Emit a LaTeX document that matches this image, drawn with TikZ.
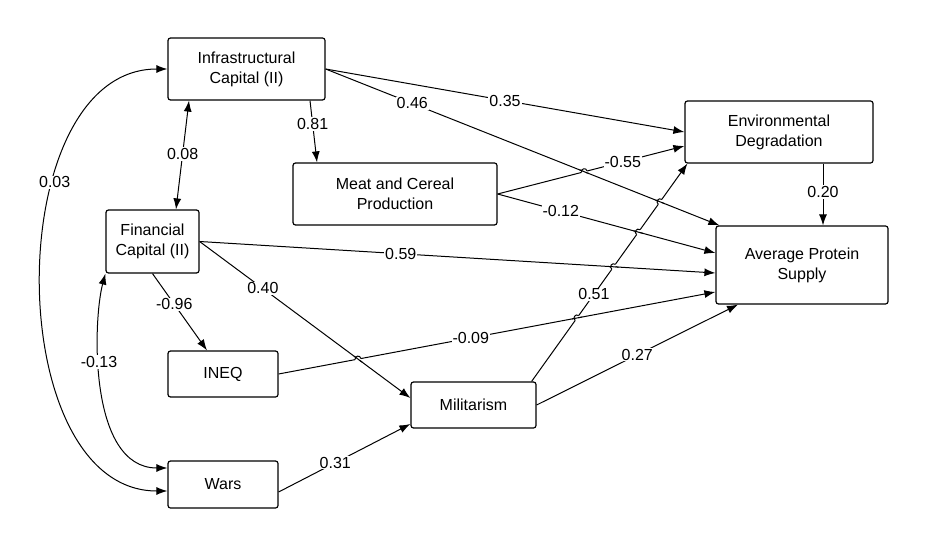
\documentclass[tikz,border=0pt]{standalone}
\usepackage{fontspec}
\setmainfont{Liberation Sans}
\usetikzlibrary{arrows.meta, calc, intersections}
% line jump: #1 crossing, #2--#3 jumping line, #4--#5 crossed line
\newcommand\hop[5]{%
  \draw[white, line width=3pt] ($(#1)!3pt!(#2)$) -- ($(#1)!3pt!(#3)$);
  \draw ($(#1)!5pt!(#4)$) -- ($(#1)!5pt!(#5)$);
  \draw ($(#1)!3pt!(#2)$) to[bend left=90, looseness=1.7] ($(#1)!3pt!(#3)$);}
\begin{document}
\begin{tikzpicture}[x=1pt,y=-1pt,>={Latex[length=11pt,width=8pt]},line width=1pt,
  box/.style={draw, line width=1.2pt, rounded corners=2.5pt, align=center, inner sep=0pt,
    font=\fontsize{16}{20}\selectfont},
  coef/.style={fill=white, inner sep=1pt, font=\fontsize{16}{18}\selectfont}]
\useasboundingbox (0,0) rectangle (936,537);
\node[box, minimum width=157pt, minimum height=62pt] (infra) at (246.5,69) {Infrastructural\\Capital (II)};
\node[box, minimum width=204pt, minimum height=62pt] (meat) at (395,194) {Meat and Cereal\\Production};
\node[box, minimum width=188pt, minimum height=62pt] (env) at (779,132) {Environmental\\Degradation};
\node[box, minimum width=172pt, minimum height=78pt] (aps) at (802,265) {Average Protein\\Supply};
\node[box, minimum width=93pt, minimum height=63pt] (fin) at (152.5,241.5) {Financial\\Capital (II)};
\node[box, minimum width=110pt, minimum height=46pt] (ineq) at (223,374) {INEQ};
\node[box, minimum width=125pt, minimum height=46pt] (mil) at (473.5,405) {Militarism};
\node[box, minimum width=110pt, minimum height=47pt] (wars) at (223,484.5) {Wars};

\coordinate (e46) at ([xshift=4pt]aps.north west);
\coordinate (e55) at ([yshift=-14pt]env.west);
\coordinate (s51) at ([xshift=-5pt]mil.north east);
\coordinate (e51) at ([xshift=3pt]env.south west);
\coordinate (e12) at ([yshift=12pt]aps.west);
\coordinate (e59) at ([yshift=-8pt]aps.west);
\coordinate (e09) at ([yshift=-27pt]aps.west);
\coordinate (e40) at ([yshift=7pt]mil.west);

\draw[->] (infra.east) -- node[coef, pos=.5] {0.35} (env.west);
\draw[->, name path=l46] (infra.east) -- node[coef, pos=.22] {0.46} (e46);
\draw[->] ([xshift=63.5pt]infra.south) -- node[coef, pos=.38] {0.81} ([xshift=-78pt]meat.north);
\draw[<->] ([xshift=-57.5pt]infra.south) -- node[coef, pos=.49] {0.08} ([xshift=23.5pt]fin.north);
\draw[<->] (infra.west) .. controls (0,69) and (0,491) .. node[coef, pos=.34] {0.03} ([yshift=-6.5pt]wars.west);
\draw[<->] (fin.south west) .. controls (93,320) and (88,468) .. node[coef, pos=.4] {-0.13} ([yshift=16.5pt]wars.west);
\draw[->, name path=l59] (fin.east) -- node[coef, pos=.39] {0.59} (e59);
\draw[->, name path=l40] (fin.east) -- node[coef, pos=.3] {0.40} (e40);
\draw[->] (fin.south) -- node[coef, pos=.4] {-0.96} ([xshift=-16pt]ineq.north);
\draw[->, name path=l55] (meat.east) -- node[coef, pos=.67] {-0.55} (e55);
\draw[->, name path=l12] (meat.east) -- node[coef, pos=.29] {-0.12} (e12);
\draw[->] ([xshift=44pt]env.south) -- node[coef, pos=.46] {0.20} ([xshift=21pt]aps.north);
\draw[->, name path=l09] (ineq.east) -- node[coef, pos=.44] {-0.09} (e09);
\draw[->] (mil.east) -- node[coef, pos=.5] {0.27} ([xshift=-64pt]aps.south);
\draw[->, name path=l51] (s51) -- node[coef, pos=.4] {0.51} (e51);
\draw[->] ([yshift=-7.5pt]wars.east) -- node[coef, pos=.43] {0.31} ([yshift=-19pt]mil.west);

% jumps where lines cross
\path[name intersections={of=l55 and l46, by=x1}];
\path[name intersections={of=l51 and l46, by=x2}];
\path[name intersections={of=l51 and l12, by=x3}];
\path[name intersections={of=l51 and l59, by=x4}];
\path[name intersections={of=l51 and l09, by=x5}];
\path[name intersections={of=l09 and l40, by=x6}];
\hop{x1}{meat.east}{e55}{infra.east}{e46}
\hop{x2}{s51}{e51}{infra.east}{e46}
\hop{x3}{s51}{e51}{meat.east}{e12}
\hop{x4}{s51}{e51}{fin.east}{e59}
\hop{x5}{s51}{e51}{ineq.east}{e09}
\hop{x6}{ineq.east}{e09}{fin.east}{e40}
\end{tikzpicture}
\end{document}
